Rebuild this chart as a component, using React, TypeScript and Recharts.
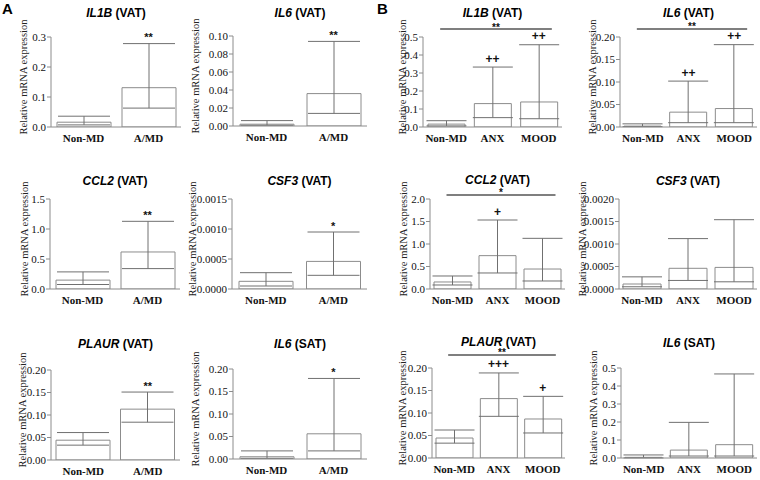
import React from 'react';
import { ComposedChart, Bar, Line, XAxis, YAxis, ErrorBar, ReferenceLine } from 'recharts';

// ---------- categories ----------
const groupsA = ['Non-MD', 'A/MD'];
const groupsB = ['Non-MD', 'ANX', 'MOOD'];
const yLabelText = 'Relative mRNA expression';

// ---------- panel A values (mean, lower, upper) ----------
const meanA_IL1B_VAT = [0.016, 0.131];
const lowA_IL1B_VAT = [0.007, 0.063];
const highA_IL1B_VAT = [0.036, 0.278];
const sigA_IL1B_VAT = ['', '**'];
const ticksA_IL1B_VAT = [0, 0.1, 0.2, 0.3];

const meanA_IL6_VAT = [0.002, 0.036];
const lowA_IL6_VAT = [0.0008, 0.014];
const highA_IL6_VAT = [0.006, 0.094];
const sigA_IL6_VAT = ['', '**'];
const ticksA_IL6_VAT = [0, 0.02, 0.04, 0.06, 0.08, 0.1];

const meanA_CCL2_VAT = [0.148, 0.617];
const lowA_CCL2_VAT = [0.075, 0.34];
const highA_CCL2_VAT = [0.285, 1.128];
const sigA_CCL2_VAT = ['', '**'];
const ticksA_CCL2_VAT = [0, 0.5, 1.0, 1.5];

const meanA_CSF3_VAT = [0.000128, 0.00046];
const lowA_CSF3_VAT = [0.00005, 0.000228];
const highA_CSF3_VAT = [0.000272, 0.00095];
const sigA_CSF3_VAT = ['', '*'];
const ticksA_CSF3_VAT = [0, 0.0005, 0.001, 0.0015];

const meanA_PLAUR_VAT = [0.044, 0.113];
const lowA_PLAUR_VAT = [0.033, 0.084];
const highA_PLAUR_VAT = [0.061, 0.151];
const sigA_PLAUR_VAT = ['', '**'];
const ticksA_PLAUR_VAT = [0, 0.05, 0.1, 0.15, 0.2];

const meanA_IL6_SAT = [0.005, 0.056];
const lowA_IL6_SAT = [0.0015, 0.018];
const highA_IL6_SAT = [0.018, 0.179];
const sigA_IL6_SAT = ['', '*'];
const ticksA_IL6_SAT = [0, 0.05, 0.1, 0.15, 0.2];

// ---------- panel B values ----------
const meanB_IL1B_VAT = [0.016, 0.13, 0.139];
const lowB_IL1B_VAT = [0.006, 0.052, 0.046];
const highB_IL1B_VAT = [0.035, 0.333, 0.457];
const sigB_IL1B_VAT = ['', '++', '++'];
const overallB_IL1B_VAT = { mark: '**', level: 0.544 };
const ticksB_IL1B_VAT = [0, 0.1, 0.2, 0.3, 0.4, 0.5];

const meanB_IL6_VAT = [0.002, 0.033, 0.041];
const lowB_IL6_VAT = [0.0008, 0.0096, 0.0096];
const highB_IL6_VAT = [0.007, 0.102, 0.183];
const sigB_IL6_VAT = ['', '++', '++'];
const overallB_IL6_VAT = { mark: '**', level: 0.218 };
const ticksB_IL6_VAT = [0, 0.05, 0.1, 0.15, 0.2];

const meanB_CCL2_VAT = [0.156, 0.741, 0.444];
const lowB_CCL2_VAT = [0.089, 0.356, 0.178];
const highB_CCL2_VAT = [0.289, 1.533, 1.126];
const sigB_CCL2_VAT = ['', '+', ''];
const overallB_CCL2_VAT = { mark: '*', level: 2.09 };
const ticksB_CCL2_VAT = [0, 0.5, 1.0, 1.5, 2.0];

const meanB_CSF3_VAT = [0.000111, 0.00046, 0.00048];
const lowB_CSF3_VAT = [0.00005, 0.00019, 0.00016];
const highB_CSF3_VAT = [0.00027, 0.00112, 0.00154];
const sigB_CSF3_VAT = ['', '', ''];
const ticksB_CSF3_VAT = [0, 0.0005, 0.001, 0.0015, 0.002];

const meanB_PLAUR_VAT = [0.0444, 0.132, 0.0867];
const lowB_PLAUR_VAT = [0.033, 0.0926, 0.0556];
const highB_PLAUR_VAT = [0.0622, 0.189, 0.137];
const sigB_PLAUR_VAT = ['', '+++', '+'];
const overallB_PLAUR_VAT = { mark: '**', level: 0.229 };
const ticksB_PLAUR_VAT = [0, 0.05, 0.1, 0.15, 0.2];

const meanB_IL6_SAT = [0.0037, 0.044, 0.074];
const lowB_IL6_SAT = [0.0005, 0.011, 0.011];
const highB_IL6_SAT = [0.017, 0.198, 0.467];
const sigB_IL6_SAT = ['', '', ''];
const ticksB_IL6_SAT = [0, 0.1, 0.2, 0.3, 0.4, 0.5];

// ---------- styles ----------
const SERIF = '"Liberation Serif", "Times New Roman", serif';
const SANS = '"Liberation Sans", Arial, sans-serif';
const AXIS = '#8c8c8c';
const ERR = '#707070';

type PanelCfg = {
  gene: string;
  tissue: string;
  cats: string[];
  mean: number[];
  low: number[];
  high: number[];
  sig: string[];
  ticks: number[];
  dec: number;
  overall?: { mark: string; level: number };
  axisX: number;
  right: number;
  top: number;
  bottom: number;
  labelX: number;
  barSize: number;
  cap: number;
  titleY: number;
};

const panels: PanelCfg[] = [
  { gene: 'IL1B', tissue: 'VAT', cats: groupsA, mean: meanA_IL1B_VAT, low: lowA_IL1B_VAT, high: highA_IL1B_VAT, sig: sigA_IL1B_VAT, ticks: ticksA_IL1B_VAT, dec: 1, axisX: 51, right: 181, top: 37, bottom: 127, labelX: 23, barSize: 54, cap: 26, titleY: 17 },
  { gene: 'IL6', tissue: 'VAT', cats: groupsA, mean: meanA_IL6_VAT, low: lowA_IL6_VAT, high: highA_IL6_VAT, sig: sigA_IL6_VAT, ticks: ticksA_IL6_VAT, dec: 2, axisX: 233, right: 367, top: 36, bottom: 126, labelX: 195, barSize: 54, cap: 26, titleY: 17 },
  { gene: 'IL1B', tissue: 'VAT', cats: groupsB, mean: meanB_IL1B_VAT, low: lowB_IL1B_VAT, high: highB_IL1B_VAT, sig: sigB_IL1B_VAT, ticks: ticksB_IL1B_VAT, dec: 1, overall: overallB_IL1B_VAT, axisX: 423, right: 562, top: 37, bottom: 127, labelX: 402, barSize: 37, cap: 20, titleY: 17 },
  { gene: 'IL6', tissue: 'VAT', cats: groupsB, mean: meanB_IL6_VAT, low: lowB_IL6_VAT, high: highB_IL6_VAT, sig: sigB_IL6_VAT, ticks: ticksB_IL6_VAT, dec: 2, overall: overallB_IL6_VAT, axisX: 620, right: 757, top: 37, bottom: 127, labelX: 592, barSize: 37, cap: 20, titleY: 17 },
  { gene: 'CCL2', tissue: 'VAT', cats: groupsA, mean: meanA_CCL2_VAT, low: lowA_CCL2_VAT, high: highA_CCL2_VAT, sig: sigA_CCL2_VAT, ticks: ticksA_CCL2_VAT, dec: 1, axisX: 50, right: 180, top: 199, bottom: 289, labelX: 24, barSize: 54, cap: 26, titleY: 185 },
  { gene: 'CSF3', tissue: 'VAT', cats: groupsA, mean: meanA_CSF3_VAT, low: lowA_CSF3_VAT, high: highA_CSF3_VAT, sig: sigA_CSF3_VAT, ticks: ticksA_CSF3_VAT, dec: 4, axisX: 232, right: 367, top: 199, bottom: 289, labelX: 192, barSize: 54, cap: 26, titleY: 185 },
  { gene: 'CCL2', tissue: 'VAT', cats: groupsB, mean: meanB_CCL2_VAT, low: lowB_CCL2_VAT, high: highB_CCL2_VAT, sig: sigB_CCL2_VAT, ticks: ticksB_CCL2_VAT, dec: 1, overall: overallB_CCL2_VAT, axisX: 430, right: 565, top: 199, bottom: 289, labelX: 403, barSize: 37, cap: 20, titleY: 184 },
  { gene: 'CSF3', tissue: 'VAT', cats: groupsB, mean: meanB_CSF3_VAT, low: lowB_CSF3_VAT, high: highB_CSF3_VAT, sig: sigB_CSF3_VAT, ticks: ticksB_CSF3_VAT, dec: 4, axisX: 619, right: 757, top: 199, bottom: 289, labelX: 582, barSize: 38, cap: 20, titleY: 185 },
  { gene: 'PLAUR', tissue: 'VAT', cats: groupsA, mean: meanA_PLAUR_VAT, low: lowA_PLAUR_VAT, high: highA_PLAUR_VAT, sig: sigA_PLAUR_VAT, ticks: ticksA_PLAUR_VAT, dec: 2, axisX: 51, right: 180, top: 370, bottom: 460, labelX: 22, barSize: 54, cap: 26, titleY: 348 },
  { gene: 'IL6', tissue: 'SAT', cats: groupsA, mean: meanA_IL6_SAT, low: lowA_IL6_SAT, high: highA_IL6_SAT, sig: sigA_IL6_SAT, ticks: ticksA_IL6_SAT, dec: 2, axisX: 233, right: 367, top: 369, bottom: 459, labelX: 195, barSize: 54, cap: 26, titleY: 348 },
  { gene: 'PLAUR', tissue: 'VAT', cats: groupsB, mean: meanB_PLAUR_VAT, low: lowB_PLAUR_VAT, high: highB_PLAUR_VAT, sig: sigB_PLAUR_VAT, ticks: ticksB_PLAUR_VAT, dec: 2, overall: overallB_PLAUR_VAT, axisX: 432, right: 565, top: 368, bottom: 458, labelX: 402, barSize: 37, cap: 20, titleY: 346 },
  { gene: 'IL6', tissue: 'SAT', cats: groupsB, mean: meanB_IL6_SAT, low: lowB_IL6_SAT, high: highB_IL6_SAT, sig: sigB_IL6_SAT, ticks: ticksB_IL6_SAT, dec: 1, axisX: 621, right: 757, top: 368, bottom: 458, labelX: 593, barSize: 37, cap: 20, titleY: 347 },
];

const MT = 32;
const XH = 24;

function Panel({ p }: { p: PanelCfg }) {
  const left = p.labelX - 8;
  const yw = p.axisX - left;
  const width = p.right - left + 2;
  const plotH = p.bottom - p.top;
  const height = MT + plotH + XH + 2;
  const max = p.ticks[p.ticks.length - 1];
  const data = p.cats.map((c, i) => ({
    cat: c,
    mean: p.mean[i],
    err: [p.mean[i] - p.low[i], p.high[i] - p.mean[i]],
    hi: p.high[i],
  }));

  const yLabel = (props: any) => {
    const vb = props.viewBox || {};
    const x = vb.x + 8;
    const y = vb.y + vb.height / 2 - 5;
    return (
      <text
        x={x}
        y={y}
        transform={`rotate(-90 ${x} ${y})`}
        textAnchor="middle"
        dominantBaseline="central"
        fontFamily={SERIF}
        fontSize={10.5}
        fill="#222"
      >
        {yLabelText}
      </text>
    );
  };

  const sigLabel = (props: any) => {
    const { x, y, index } = props;
    const s = p.sig[index];
    if (!s) return null;
    const isStar = s.indexOf('*') >= 0;
    return (
      <text
        key={`sig-${index}`}
        x={x}
        y={y - (isStar ? 2.5 : 4.5)}
        textAnchor="middle"
        fontFamily={SANS}
        fontWeight="bold"
        fontSize={isStar ? 11 : 12}
        fill="#111"
      >
        {s}
      </text>
    );
  };

  const overallShape = (props: any) => {
    const { x1, y1, x2 } = props;
    const a = x1 - 6;
    const b = x2 + 13;
    return (
      <g>
        <line x1={a} y1={y1} x2={b} y2={y1} stroke="#555" strokeWidth={1.5} />
        <text x={(a + b) / 2} y={y1 + 1.5} textAnchor="middle" fontFamily={SANS} fontWeight="bold" fontSize={10} fill="#111">
          {p.overall ? p.overall.mark : ''}
        </text>
      </g>
    );
  };

  return (
    <div style={{ position: 'absolute', left, top: p.top - MT }}>
      <ComposedChart
        width={width}
        height={height}
        data={data}
        margin={{ top: MT, right: 2, bottom: 2, left: 0 }}
        style={{ overflow: 'visible' }}
      >
        <XAxis
          dataKey="cat"
          height={XH}
          tickLine={false}
          axisLine={{ stroke: AXIS }}
          interval={0}
          tickSize={5}
          tick={{ fontFamily: SERIF, fontWeight: 'bold', fontSize: 11, fill: '#111' }}
        />
        <YAxis
          width={yw}
          domain={[0, max]}
          ticks={p.ticks}
          type="number"
          allowDataOverflow
          tickSize={4}
          tickMargin={1}
          axisLine={{ stroke: AXIS }}
          tickLine={{ stroke: AXIS }}
          tick={{ fontFamily: SERIF, fontSize: 11, fill: '#111' }}
          tickFormatter={(v: number) => v.toFixed(p.dec)}
          label={yLabel}
        />
        <Bar dataKey="mean" fill="#ffffff" stroke={AXIS} strokeWidth={1} barSize={p.barSize} isAnimationActive={false}>
          <ErrorBar dataKey="err" width={p.cap} stroke={ERR} strokeWidth={1} direction="y" />
        </Bar>
        <Line
          dataKey="hi"
          stroke="none"
          dot={false}
          activeDot={false}
          legendType="none"
          isAnimationActive={false}
          label={sigLabel}
        />
        {p.overall ? (
          <ReferenceLine
            segment={[
              { x: p.cats[0], y: p.overall.level },
              { x: p.cats[p.cats.length - 1], y: p.overall.level },
            ]}
            ifOverflow="visible"
            shape={overallShape}
          />
        ) : null}
      </ComposedChart>
    </div>
  );
}

export default function App() {
  return (
    <div style={{ position: 'absolute', left: 0, top: 0, width: 760, height: 480, background: '#fff', overflow: 'hidden' }}>
      {panels.map((p, i) => (
        <Panel key={i} p={p} />
      ))}
      <svg width={760} height={480} style={{ position: 'absolute', left: 0, top: 0, pointerEvents: 'none' }}>
        <text x={2} y={14} fontFamily={SANS} fontWeight="bold" fontSize={15} fill="#000">A</text>
        <text x={377} y={14} fontFamily={SANS} fontWeight="bold" fontSize={15} fill="#000">B</text>
        {panels.map((p, i) => (
          <text
            key={`t-${i}`}
            x={(p.axisX + p.right) / 2}
            y={p.titleY}
            textAnchor="middle"
            fontFamily={SANS}
            fontWeight="bold"
            fontSize={12}
            fill="#000"
          >
            <tspan fontStyle="italic">{p.gene}</tspan>
            {` (${p.tissue})`}
          </text>
        ))}
      </svg>
    </div>
  );
}
